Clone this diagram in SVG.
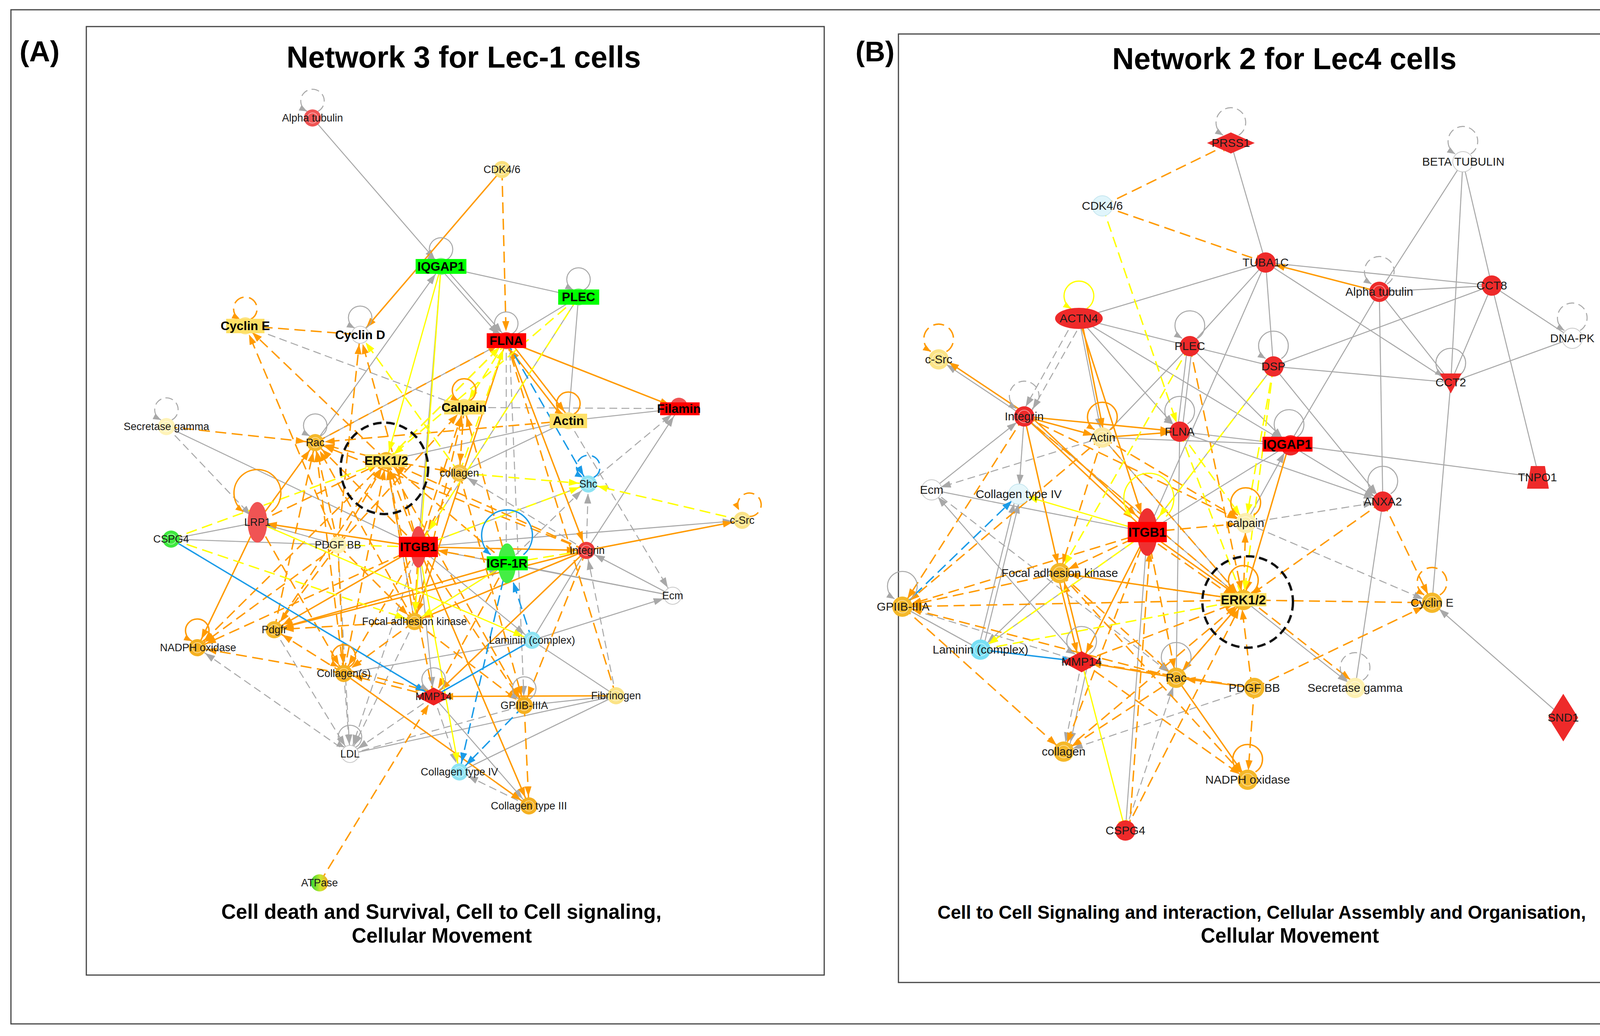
<svg xmlns="http://www.w3.org/2000/svg" width="4382" height="2652" viewBox="0 0 4382 2652">
<style>
.g{stroke:#a8a8a8;stroke-width:2.6;fill:none}
.gd{stroke:#a8a8a8;stroke-width:2.6;fill:none;stroke-dasharray:20 11}
.o{stroke:#ff9a00;stroke-width:3.6;fill:none}
.od{stroke:#ff9a00;stroke-width:3.6;fill:none;stroke-dasharray:28 14}
.y{stroke:#ffff00;stroke-width:3.2;fill:none}
.yd{stroke:#ffff00;stroke-width:3.6;fill:none;stroke-dasharray:28 14}
.b{stroke:#1a9be8;stroke-width:3.6;fill:none}
.bd{stroke:#1a9be8;stroke-width:3.6;fill:none;stroke-dasharray:28 14}
.t{font-family:"Liberation Sans",Arial,Helvetica,sans-serif;text-anchor:middle;fill:#1a1a1a}
.s{font-size:27px}
.s2{font-size:30px}
.bl{font-size:32px;font-weight:bold;fill:#000}
.bl2{font-size:33px;font-weight:bold;fill:#000}
.ring{fill:none;stroke:#fff;stroke-opacity:.5;stroke-width:2}
.wn{fill:#fff;stroke:#c8c8c8;stroke-width:2}
.frame{fill:none;stroke:#444;stroke-width:3}
.ttl{font-family:"Liberation Sans",Arial,Helvetica,sans-serif;font-weight:bold;fill:#000}
.erk{fill:none;stroke:#111;stroke-width:6;stroke-dasharray:22 12}
</style>
<defs>
<marker id="mg" markerUnits="userSpaceOnUse" markerWidth="80" markerHeight="20" refX="50" refY="9" orient="auto"><path d="M0,0L26,9L0,18z" fill="#a8a8a8"/></marker>
<marker id="mo" markerUnits="userSpaceOnUse" markerWidth="80" markerHeight="20" refX="50" refY="9" orient="auto"><path d="M0,0L26,9L0,18z" fill="#ff9a00"/></marker>
<marker id="moB" markerUnits="userSpaceOnUse" markerWidth="90" markerHeight="20" refX="76" refY="9" orient="auto"><path d="M0,0L26,9L0,18z" fill="#ff9a00"/></marker>
<marker id="my" markerUnits="userSpaceOnUse" markerWidth="80" markerHeight="20" refX="50" refY="9" orient="auto"><path d="M0,0L26,9L0,18z" fill="#ffff00"/></marker>
<marker id="myB" markerUnits="userSpaceOnUse" markerWidth="90" markerHeight="20" refX="76" refY="9" orient="auto"><path d="M0,0L26,9L0,18z" fill="#ffff00"/></marker>
<marker id="mb" markerUnits="userSpaceOnUse" markerWidth="80" markerHeight="20" refX="50" refY="9" orient="auto"><path d="M0,0L26,9L0,18z" fill="#1a9be8"/></marker>
<marker id="mbB" markerUnits="userSpaceOnUse" markerWidth="90" markerHeight="20" refX="76" refY="9" orient="auto"><path d="M0,0L26,9L0,18z" fill="#1a9be8"/></marker>
<marker id="mgL" markerUnits="userSpaceOnUse" markerWidth="24" markerHeight="18" refX="20" refY="8" orient="auto"><path d="M0,0L20,8L0,16z" fill="#a8a8a8"/></marker>
<marker id="moL" markerUnits="userSpaceOnUse" markerWidth="24" markerHeight="18" refX="20" refY="8" orient="auto"><path d="M0,0L20,8L0,16z" fill="#ff9a00"/></marker>
<marker id="myL" markerUnits="userSpaceOnUse" markerWidth="24" markerHeight="18" refX="20" refY="8" orient="auto"><path d="M0,0L20,8L0,16z" fill="#ffff00"/></marker>
<marker id="mbL" markerUnits="userSpaceOnUse" markerWidth="24" markerHeight="18" refX="20" refY="8" orient="auto"><path d="M0,0L20,8L0,16z" fill="#1a9be8"/></marker>
<marker id="tbo" markerUnits="userSpaceOnUse" markerWidth="30" markerHeight="26" refX="26" refY="12" orient="auto"><path d="M0,0L0,24" stroke="#ff9a00" stroke-width="4"/></marker>
<marker id="tby" markerUnits="userSpaceOnUse" markerWidth="30" markerHeight="26" refX="26" refY="12" orient="auto"><path d="M0,0L0,24" stroke="#ffff00" stroke-width="4"/></marker>
<linearGradient id="atp" x1="0" y1="0" x2="1" y2="0"><stop offset="0" stop-color="#2fd62f"/><stop offset="0.55" stop-color="#c8e830"/><stop offset="1" stop-color="#f5a623"/></linearGradient>
</defs>
<rect x="0" y="0" width="4382" height="2652" fill="#fff"/>
<g id="frames">
<rect class="frame" x="28" y="25" width="4326" height="2596"/>
<rect class="frame" x="221" y="68" width="1889" height="2428"/>
<rect class="frame" x="2300" y="87" width="1984" height="2428"/>
</g>
<g id="titles">
<text class="ttl" x="50" y="157" font-size="74">(A)</text>
<text class="ttl" x="2190" y="157" font-size="72">(B)</text>
<text class="ttl" x="1187" y="173" font-size="77" text-anchor="middle">Network 3 for Lec-1 cells</text>
<text class="ttl" x="3288" y="177" font-size="77" text-anchor="middle">Network 2 for Lec4 cells</text>
<text class="ttl" x="1130" y="2352" font-size="54" text-anchor="middle" textLength="1127" lengthAdjust="spacingAndGlyphs">Cell death and Survival, Cell to Cell signaling,</text>
<text class="ttl" x="1131" y="2413" font-size="54" text-anchor="middle" textLength="461" lengthAdjust="spacingAndGlyphs">Cellular Movement</text>
<text class="ttl" x="3230" y="2352" font-size="48" text-anchor="middle" textLength="1660" lengthAdjust="spacingAndGlyphs">Cell to Cell Signaling and interaction, Cellular Assembly and Organisation,</text>
<text class="ttl" x="3302" y="2413" font-size="54" text-anchor="middle" textLength="456" lengthAdjust="spacingAndGlyphs">Cellular Movement</text>
</g>
<g id="connectors-a">
<line class="g" x1="800" y1="302" x2="1129" y2="682" marker-end="url(#mg)"/>
<line class="g" x1="1124" y1="684" x2="1291" y2="874" marker-end="url(#mg)"/>
<line class="g" x1="1134" y1="680" x2="1301" y2="870" marker-end="url(#mg)"/>
<line class="g" x1="1129" y1="682" x2="1481" y2="760"/>
<line class="g" x1="1129" y1="682" x2="1071" y2="1400"/>
<line class="g" x1="807" y1="1133" x2="1129" y2="682" marker-end="url(#mg)"/>
<line class="g" x1="1481" y1="760" x2="1296" y2="872"/>
<line class="g" x1="1481" y1="760" x2="1455" y2="1077"/>
<line class="g" x1="1481" y1="760" x2="1071" y2="1400"/>
<line class="g" x1="1296" y1="872" x2="807" y2="1133"/>
<line class="g" x1="1738" y1="1046" x2="1455" y2="1077"/>
<line class="g" x1="1501" y1="1409" x2="1738" y2="1046" marker-end="url(#mg)"/>
<line class="gd" x1="1506" y1="1239" x2="1738" y2="1046" marker-end="url(#mg)"/>
<line class="gd" x1="1188" y1="1043" x2="1738" y2="1046"/>
<line class="g" x1="1071" y1="1400" x2="1900" y2="1332" marker-end="url(#mg)"/>
<line class="g" x1="1722" y1="1525" x2="1501" y2="1409" marker-end="url(#mg)"/>
<line class="gd" x1="1455" y1="1077" x2="1722" y2="1525" marker-end="url(#mg)"/>
<line class="g" x1="1362" y1="1639" x2="1722" y2="1525" marker-end="url(#mg)"/>
<line class="g" x1="1362" y1="1639" x2="1501" y2="1409"/>
<line class="g" x1="1362" y1="1639" x2="1577" y2="1781"/>
<line class="gd" x1="1577" y1="1781" x2="1501" y2="1409" marker-end="url(#mg)"/>
<line class="gd" x1="1501" y1="1409" x2="1506" y2="1239" marker-end="url(#mg)"/>
<line class="gd" x1="1298" y1="1442" x2="1506" y2="1239" marker-end="url(#mg)"/>
<line class="g" x1="438" y1="1380" x2="659" y2="1337"/>
<line class="g" x1="438" y1="1380" x2="865" y2="1395"/>
<line class="g" x1="865" y1="1395" x2="659" y2="1337" marker-end="url(#mg)"/>
<line class="gd" x1="426" y1="1092" x2="659" y2="1337" marker-end="url(#mg)"/>
<line class="g" x1="426" y1="1092" x2="1071" y2="1400"/>
<line class="gd" x1="896" y1="1930" x2="505" y2="1658" marker-end="url(#mg)"/>
<line class="gd" x1="880" y1="1724" x2="896" y2="1930" marker-end="url(#mg)"/>
<line class="gd" x1="865" y1="1395" x2="896" y2="1930" marker-end="url(#mg)"/>
<line class="gd" x1="1110" y1="1783" x2="896" y2="1930" marker-end="url(#mg)"/>
<line class="gd" x1="1061" y1="1591" x2="896" y2="1930" marker-end="url(#mg)"/>
<line class="gd" x1="1071" y1="1400" x2="896" y2="1930" marker-end="url(#mg)"/>
<line class="gd" x1="702" y1="1612" x2="896" y2="1930" marker-end="url(#mg)"/>
<line class="g" x1="896" y1="1930" x2="1577" y2="1781"/>
<line class="gd" x1="896" y1="1930" x2="1342" y2="1806"/>
<line class="g" x1="1176" y1="1976" x2="1577" y2="1781"/>
<line class="g" x1="1110" y1="1783" x2="1354" y2="2063" marker-end="url(#mg)"/>
<line class="g" x1="1342" y1="1806" x2="1577" y2="1781"/>
<line class="gd" x1="1110" y1="1783" x2="1176" y2="1976" marker-end="url(#mg)"/>
<line class="gd" x1="1354" y1="2063" x2="1176" y2="1976" marker-end="url(#mg)"/>
<line class="g" x1="1071" y1="1400" x2="1110" y2="1783" marker-end="url(#mg)"/>
<line class="g" x1="1071" y1="1400" x2="1722" y2="1525"/>
<line class="g" x1="1071" y1="1400" x2="1362" y2="1639" marker-end="url(#mg)"/>
<line class="g" x1="1071" y1="1400" x2="1506" y2="1239"/>
<line class="gd" x1="1501" y1="1409" x2="1176" y2="1211" marker-end="url(#mg)"/>
<line class="g" x1="989" y1="1179" x2="1455" y2="1077"/>
<line class="gd" x1="628" y1="834" x2="1188" y2="1043"/>
<line class="g" x1="1061" y1="1591" x2="989" y2="1179" marker-end="url(#mg)"/>
<line class="g" x1="1061" y1="1591" x2="1298" y2="1442" marker-end="url(#mg)"/>
<line class="g" x1="1298" y1="1442" x2="1722" y2="1525"/>
<line class="gd" x1="1296" y1="872" x2="1296" y2="1442"/>
<line class="gd" x1="1304" y1="872" x2="1342" y2="1806" marker-end="url(#mg)"/>
<line class="g" x1="1176" y1="1211" x2="1455" y2="1077"/>
<line class="g" x1="702" y1="1612" x2="1298" y2="1442"/>
<line class="g" x1="880" y1="1724" x2="1362" y2="1639"/>
<line class="o" x1="1285" y1="434" x2="922" y2="857" marker-end="url(#mo)"/>
<line class="o" x1="1296" y1="872" x2="1738" y2="1046" marker-end="url(#mo)"/>
<line class="o" x1="1450" y1="1081" x2="1291" y2="876" marker-end="url(#mo)"/>
<line class="o" x1="1301" y1="868" x2="1460" y2="1073" marker-end="url(#mo)"/>
<line class="o" x1="1296" y1="872" x2="1501" y2="1409" marker-end="url(#mo)"/>
<line class="o" x1="1501" y1="1409" x2="1900" y2="1332" marker-end="url(#mo)"/>
<line class="o" x1="1071" y1="1400" x2="1501" y2="1409" marker-end="url(#mo)"/>
<line class="o" x1="1501" y1="1409" x2="702" y2="1612" marker-end="url(#mo)"/>
<line class="o" x1="1501" y1="1409" x2="1061" y2="1591" marker-end="url(#mo)"/>
<line class="o" x1="659" y1="1337" x2="505" y2="1658" marker-end="url(#mo)"/>
<line class="o" x1="1071" y1="1400" x2="659" y2="1337" marker-end="url(#mo)"/>
<line class="o" x1="1577" y1="1781" x2="1110" y2="1783" marker-end="url(#mo)"/>
<line class="o" x1="1071" y1="1400" x2="1354" y2="2063" marker-end="url(#mo)"/>
<line class="o" x1="880" y1="1724" x2="1354" y2="2063" marker-end="url(#mo)"/>
<line class="o" x1="1071" y1="1400" x2="702" y2="1612" marker-end="url(#mo)"/>
<line class="o" x1="1296" y1="872" x2="1061" y2="1591" marker-end="url(#mo)"/>
<line class="o" x1="659" y1="1337" x2="807" y2="1133" marker-end="url(#mo)"/>
<line class="o" x1="1298" y1="1442" x2="702" y2="1612" marker-end="url(#mo)"/>
<line class="o" x1="1501" y1="1409" x2="1110" y2="1783" marker-end="url(#mo)"/>
<line class="od" x1="1285" y1="434" x2="1296" y2="872" marker-end="url(#mo)"/>
<line class="od" x1="628" y1="834" x2="922" y2="857"/>
<line class="od" x1="865" y1="1395" x2="628" y2="834" marker-end="url(#mo)"/>
<line class="od" x1="989" y1="1179" x2="628" y2="834" marker-end="url(#mo)"/>
<line class="od" x1="865" y1="1395" x2="922" y2="857" marker-end="url(#mo)"/>
<line class="od" x1="1071" y1="1400" x2="922" y2="857" marker-end="url(#mo)"/>
<line class="od" x1="426" y1="1092" x2="807" y2="1133" marker-end="url(#mo)"/>
<line class="od" x1="989" y1="1179" x2="807" y2="1133" marker-end="url(#mo)"/>
<line class="od" x1="1071" y1="1400" x2="807" y2="1133" marker-end="url(#mo)"/>
<line class="od" x1="865" y1="1395" x2="807" y2="1133" marker-end="url(#mo)"/>
<line class="od" x1="1061" y1="1591" x2="807" y2="1133" marker-end="url(#mo)"/>
<line class="od" x1="880" y1="1724" x2="807" y2="1133" marker-end="url(#mo)"/>
<line class="od" x1="1455" y1="1077" x2="807" y2="1133" marker-end="url(#mo)"/>
<line class="od" x1="1501" y1="1409" x2="807" y2="1133" marker-end="url(#mo)"/>
<line class="od" x1="702" y1="1612" x2="807" y2="1133" marker-end="url(#mo)"/>
<line class="od" x1="989" y1="1179" x2="1176" y2="1211" marker-end="url(#mo)"/>
<line class="od" x1="1188" y1="1043" x2="1176" y2="1211" marker-end="url(#mo)"/>
<line class="od" x1="1071" y1="1400" x2="1188" y2="1043" marker-end="url(#mo)"/>
<line class="od" x1="865" y1="1395" x2="1188" y2="1043" marker-end="url(#mo)"/>
<line class="od" x1="1061" y1="1591" x2="1188" y2="1043" marker-end="url(#mo)"/>
<line class="od" x1="1298" y1="1442" x2="1188" y2="1043" marker-end="url(#mo)"/>
<line class="od" x1="1071" y1="1400" x2="989" y2="1179" marker-end="url(#mo)"/>
<line class="od" x1="865" y1="1395" x2="989" y2="1179" marker-end="url(#mo)"/>
<line class="od" x1="1061" y1="1591" x2="989" y2="1179" marker-end="url(#mo)"/>
<line class="od" x1="1298" y1="1442" x2="989" y2="1179" marker-end="url(#mo)"/>
<line class="od" x1="1501" y1="1409" x2="989" y2="1179" marker-end="url(#mo)"/>
<line class="od" x1="702" y1="1612" x2="989" y2="1179" marker-end="url(#mo)"/>
<line class="od" x1="880" y1="1724" x2="989" y2="1179" marker-end="url(#mo)"/>
<line class="od" x1="1110" y1="1783" x2="989" y2="1179" marker-end="url(#mo)"/>
<line class="od" x1="659" y1="1337" x2="989" y2="1179" marker-end="url(#mo)"/>
<line class="od" x1="865" y1="1395" x2="702" y2="1612" marker-end="url(#mo)"/>
<line class="od" x1="1061" y1="1591" x2="702" y2="1612" marker-end="url(#mo)"/>
<line class="od" x1="880" y1="1724" x2="702" y2="1612" marker-end="url(#mo)"/>
<line class="od" x1="865" y1="1395" x2="505" y2="1658" marker-end="url(#mo)"/>
<line class="od" x1="1071" y1="1400" x2="505" y2="1658" marker-end="url(#mo)"/>
<line class="od" x1="880" y1="1724" x2="505" y2="1658" marker-end="url(#mo)"/>
<line class="od" x1="989" y1="1179" x2="505" y2="1658" marker-end="url(#mo)"/>
<line class="od" x1="1071" y1="1400" x2="880" y2="1724" marker-end="url(#mo)"/>
<line class="od" x1="865" y1="1395" x2="880" y2="1724" marker-end="url(#mo)"/>
<line class="od" x1="659" y1="1337" x2="880" y2="1724" marker-end="url(#mo)"/>
<line class="od" x1="1061" y1="1591" x2="880" y2="1724" marker-end="url(#mo)"/>
<line class="od" x1="1110" y1="1783" x2="880" y2="1724" marker-end="url(#mo)"/>
<line class="od" x1="884" y1="1714" x2="1114" y2="1773" marker-end="url(#mo)"/>
<line class="od" x1="1298" y1="1442" x2="1110" y2="1783" marker-end="url(#mo)"/>
<line class="od" x1="1071" y1="1400" x2="1342" y2="1806" marker-end="url(#mo)"/>
<line class="od" x1="1176" y1="1211" x2="1342" y2="1806" marker-end="url(#mo)"/>
<line class="od" x1="1501" y1="1409" x2="1342" y2="1806" marker-end="url(#mo)"/>
<line class="od" x1="1061" y1="1591" x2="1342" y2="1806" marker-end="url(#mo)"/>
<line class="od" x1="989" y1="1179" x2="1342" y2="1806" marker-end="url(#mo)"/>
<line class="od" x1="1342" y1="1806" x2="1354" y2="2063" marker-end="url(#mo)"/>
<line class="od" x1="818" y1="2260" x2="1110" y2="1783" marker-end="url(#mo)"/>
<line class="od" x1="1071" y1="1400" x2="1061" y2="1591" marker-end="url(#mo)"/>
<line class="od" x1="865" y1="1395" x2="1061" y2="1591" marker-end="url(#mo)"/>
<line class="od" x1="1176" y1="1211" x2="1071" y2="1400" marker-end="url(#moB)"/>
<line class="od" x1="1298" y1="1442" x2="1071" y2="1400" marker-end="url(#moB)"/>
<line class="od" x1="1296" y1="872" x2="1577" y2="1781"/>
<line class="od" x1="807" y1="1133" x2="1296" y2="872" marker-end="url(#mo)"/>
<line class="od" x1="989" y1="1179" x2="1296" y2="872" marker-end="url(#mo)"/>
<line class="y" x1="1129" y1="682" x2="989" y2="1179" marker-end="url(#my)"/>
<line class="y" x1="1129" y1="682" x2="1061" y2="1591" marker-end="url(#my)"/>
<line class="yd" x1="1481" y1="760" x2="1071" y2="1400" marker-end="url(#myB)"/>
<line class="yd" x1="1481" y1="760" x2="989" y2="1179" marker-end="url(#my)"/>
<line class="yd" x1="1176" y1="1211" x2="922" y2="857" marker-end="url(#my)"/>
<line class="yd" x1="989" y1="1179" x2="1296" y2="872" marker-end="url(#my)"/>
<line class="yd" x1="1176" y1="1211" x2="1296" y2="872" marker-end="url(#my)"/>
<line class="yd" x1="1296" y1="872" x2="1188" y2="1043" marker-end="url(#my)"/>
<line class="yd" x1="438" y1="1380" x2="1061" y2="1591" marker-end="url(#my)"/>
<line class="yd" x1="438" y1="1380" x2="989" y2="1179" marker-end="url(#my)"/>
<line class="yd" x1="1176" y1="1211" x2="1506" y2="1239" marker-end="url(#my)"/>
<line class="yd" x1="1071" y1="1400" x2="1506" y2="1239" marker-end="url(#my)"/>
<line class="yd" x1="1900" y1="1332" x2="1506" y2="1239" marker-end="url(#my)"/>
<line class="y" x1="659" y1="1337" x2="1362" y2="1639" marker-end="url(#my)"/>
<line class="y" x1="1071" y1="1400" x2="1176" y2="1976" marker-end="url(#my)"/>
<line class="yd" x1="1501" y1="1409" x2="1298" y2="1442"/>
<line class="y" x1="1298" y1="1442" x2="1061" y2="1591" marker-end="url(#my)"/>
<line class="yd" x1="865" y1="1395" x2="1071" y2="1400"/>
<line class="b" x1="438" y1="1380" x2="1110" y2="1783" marker-end="url(#mb)"/>
<line class="bd" x1="1362" y1="1639" x2="1298" y2="1442" marker-end="url(#mbB)"/>
<line class="bd" x1="1298" y1="1442" x2="1176" y2="1976" marker-end="url(#mb)"/>
<line class="bd" x1="1342" y1="1806" x2="1176" y2="1976" marker-end="url(#mb)"/>
<line class="b" x1="1110" y1="1783" x2="1362" y2="1639"/>
<line class="bd" x1="1296" y1="872" x2="1506" y2="1239" marker-end="url(#mb)"/>
<path class="gd" d="M814,285a30,30 0 1 0 -28,0" marker-end="url(#mgL)"/>
<path class="g" d="M1143,665a30,30 0 1 0 -28,0" marker-end="url(#mgL)"/>
<path class="g" d="M1495,742a30,30 0 1 0 -28,0" marker-end="url(#mgL)"/>
<path class="od" d="M642,817a30,30 0 1 0 -28,0" marker-end="url(#moL)"/>
<path class="g" d="M936,840a30,30 0 1 0 -28,0" marker-end="url(#mgL)"/>
<path class="g" d="M1310,855a30,30 0 1 0 -28,0" marker-end="url(#mgL)"/>
<path class="o" d="M1202,1026a30,30 0 1 0 -28,0" marker-end="url(#moL)"/>
<path class="o" d="M1469,1060a30,30 0 1 0 -28,0" marker-end="url(#moL)"/>
<path class="gd" d="M440,1075a30,30 0 1 0 -28,0" marker-end="url(#mgL)"/>
<path class="g" d="M821,1116a30,30 0 1 0 -28,0" marker-end="url(#mgL)"/>
<path class="bd" d="M1520,1222a30,30 0 1 0 -28,0" marker-end="url(#mbL)"/>
<path class="od" d="M1916,1322a30,30 0 1 0 -24,-16" marker-end="url(#moL)"/>
<path class="o" d="M695,1310a60,60 0 1 0 -72,0" marker-end="url(#moL)"/>
<path class="b" d="M1340,1420a65,65 0 1 0 -84,0" marker-end="url(#mbL)"/>
<path class="o" d="M519,1641a30,30 0 1 0 -28,0" marker-end="url(#moL)"/>
<path class="o" d="M894,1707a30,30 0 1 0 -28,0" marker-end="url(#moL)"/>
<path class="g" d="M1124,1766a30,30 0 1 0 -28,0" marker-end="url(#mgL)"/>
<path class="g" d="M1356,1789a30,30 0 1 0 -28,0" marker-end="url(#mgL)"/>
<path class="g" d="M910,1913a30,30 0 1 0 -28,0" marker-end="url(#mgL)"/>
</g>
<g id="connectors-b">
<line class="g" x1="3151" y1="366" x2="3240" y2="672"/>
<line class="g" x1="3745" y1="414" x2="3531" y2="747"/>
<line class="g" x1="3745" y1="414" x2="3714" y2="979"/>
<line class="g" x1="3745" y1="414" x2="3819" y2="731"/>
<line class="g" x1="3240" y1="672" x2="3819" y2="731"/>
<line class="g" x1="3240" y1="672" x2="3714" y2="979"/>
<line class="g" x1="3240" y1="672" x2="2762" y2="815"/>
<line class="g" x1="3240" y1="672" x2="3046" y2="886"/>
<line class="g" x1="3240" y1="672" x2="3260" y2="938"/>
<line class="g" x1="3240" y1="672" x2="2937" y2="1362"/>
<line class="g" x1="3531" y1="747" x2="3819" y2="731"/>
<line class="g" x1="3531" y1="747" x2="3714" y2="979"/>
<line class="g" x1="3531" y1="747" x2="3300" y2="1138"/>
<line class="g" x1="3531" y1="747" x2="3540" y2="1284"/>
<line class="g" x1="3819" y1="731" x2="3714" y2="979"/>
<line class="g" x1="3819" y1="731" x2="4025" y2="866"/>
<line class="g" x1="3819" y1="731" x2="3940" y2="1222"/>
<line class="g" x1="3819" y1="731" x2="3260" y2="938"/>
<line class="g" x1="3714" y1="979" x2="4025" y2="866"/>
<line class="g" x1="3714" y1="979" x2="3666" y2="1543"/>
<line class="g" x1="3260" y1="938" x2="3714" y2="979"/>
<line class="g" x1="3940" y1="1222" x2="3300" y2="1138"/>
<line class="g" x1="3300" y1="1138" x2="3540" y2="1284" marker-end="url(#mg)"/>
<line class="g" x1="3260" y1="938" x2="3540" y2="1284" marker-end="url(#mg)"/>
<line class="g" x1="3020" y1="1105" x2="3540" y2="1284" marker-end="url(#mg)"/>
<line class="g" x1="3540" y1="1284" x2="3469" y2="1761"/>
<line class="g" x1="2762" y1="815" x2="3046" y2="886"/>
<line class="g" x1="2762" y1="815" x2="3020" y2="1105" marker-end="url(#mg)"/>
<line class="g" x1="2762" y1="815" x2="2822" y2="1120" marker-end="url(#mg)"/>
<line class="gd" x1="2750" y1="818" x2="2614" y2="1062" marker-end="url(#mg)"/>
<line class="gd" x1="2772" y1="820" x2="2632" y2="1068" marker-end="url(#mg)"/>
<line class="g" x1="2762" y1="815" x2="3300" y2="1138" marker-end="url(#mg)"/>
<line class="g" x1="2762" y1="815" x2="2937" y2="1362"/>
<line class="g" x1="3046" y1="886" x2="3260" y2="938"/>
<line class="g" x1="3040" y1="886" x2="3014" y2="1105"/>
<line class="g" x1="3052" y1="886" x2="3026" y2="1105"/>
<line class="g" x1="3046" y1="886" x2="2822" y2="1120"/>
<line class="g" x1="3046" y1="886" x2="3300" y2="1138" marker-end="url(#mg)"/>
<line class="g" x1="3260" y1="938" x2="2937" y2="1362"/>
<line class="g" x1="2622" y1="1066" x2="2403" y2="920" marker-end="url(#mg)"/>
<line class="g" x1="2385" y1="1254" x2="2622" y2="1066" marker-end="url(#mg)"/>
<line class="g" x1="2622" y1="1066" x2="2608" y2="1265" marker-end="url(#mg)"/>
<line class="g" x1="2385" y1="1254" x2="2937" y2="1362"/>
<line class="gd" x1="2822" y1="1120" x2="2385" y2="1254" marker-end="url(#mg)"/>
<line class="g" x1="2769" y1="1694" x2="2385" y2="1254" marker-end="url(#mg)"/>
<line class="gd" x1="2385" y1="1254" x2="3011" y2="1735" marker-end="url(#mg)"/>
<line class="g" x1="2504" y1="1663" x2="2602" y2="1265" marker-end="url(#mg)"/>
<line class="g" x1="2516" y1="1663" x2="2614" y2="1265" marker-end="url(#mg)"/>
<line class="g" x1="2310" y1="1553" x2="2510" y2="1663"/>
<line class="gd" x1="2310" y1="1553" x2="2769" y2="1694"/>
<line class="g" x1="2713" y1="1467" x2="2510" y2="1663" marker-end="url(#mg)"/>
<line class="g" x1="2937" y1="1362" x2="2510" y2="1663" marker-end="url(#mg)"/>
<line class="gd" x1="2881" y1="2126" x2="3011" y2="1735" marker-end="url(#mg)"/>
<line class="g" x1="2881" y1="2126" x2="2937" y2="1362"/>
<line class="gd" x1="2769" y1="1694" x2="2723" y2="1924" marker-end="url(#mg)"/>
<line class="g" x1="2786" y1="1694" x2="2735" y2="1924" marker-end="url(#mg)"/>
<line class="gd" x1="3211" y1="1761" x2="2723" y2="1924" marker-end="url(#mg)"/>
<line class="gd" x1="3189" y1="1339" x2="3540" y2="1284" marker-end="url(#mg)"/>
<line class="gd" x1="3189" y1="1339" x2="3666" y2="1543" marker-end="url(#mg)"/>
<line class="g" x1="3183" y1="1536" x2="3469" y2="1761" marker-end="url(#mg)"/>
<line class="g" x1="4002" y1="1837" x2="3666" y2="1543" marker-end="url(#mg)"/>
<line class="g" x1="3300" y1="1138" x2="2937" y2="1362"/>
<line class="g" x1="3189" y1="1339" x2="3300" y2="1138" marker-end="url(#mg)"/>
<line class="g" x1="3020" y1="1105" x2="3011" y2="1735"/>
<line class="g" x1="3020" y1="1105" x2="3300" y2="1138"/>
<line class="g" x1="2822" y1="1120" x2="3300" y2="1138" marker-end="url(#mg)"/>
<line class="g" x1="2622" y1="1066" x2="3183" y2="1536"/>
<line class="g" x1="2822" y1="1120" x2="3183" y2="1536"/>
<line class="o" x1="2628" y1="1060" x2="2409" y2="914" marker-end="url(#mo)"/>
<line class="o" x1="2622" y1="1066" x2="2822" y2="1120" marker-end="url(#mo)"/>
<line class="o" x1="2622" y1="1066" x2="3020" y2="1105" marker-end="url(#mo)"/>
<line class="o" x1="2822" y1="1120" x2="3020" y2="1105" marker-end="url(#mo)"/>
<line class="o" x1="2622" y1="1066" x2="2937" y2="1362" marker-end="url(#moB)"/>
<line class="o" x1="2630" y1="1058" x2="2945" y2="1354" marker-end="url(#moB)"/>
<line class="o" x1="2622" y1="1066" x2="2713" y2="1467" marker-end="url(#mo)"/>
<line class="o" x1="2762" y1="815" x2="2937" y2="1362" marker-end="url(#moB)"/>
<line class="o" x1="2768" y1="815" x2="2828" y2="1120" marker-end="url(#mo)"/>
<line class="o" x1="2707" y1="1467" x2="2763" y2="1694" marker-end="url(#mo)"/>
<line class="o" x1="2775" y1="1694" x2="2719" y2="1467" marker-end="url(#mo)"/>
<line class="o" x1="2937" y1="1362" x2="2769" y2="1694" marker-end="url(#mo)"/>
<line class="o" x1="3300" y1="1138" x2="3183" y2="1536" marker-end="url(#mo)"/>
<line class="o" x1="3531" y1="747" x2="3240" y2="672" marker-end="url(#mo)"/>
<line class="o" x1="3011" y1="1735" x2="3194" y2="1996" marker-end="url(#mo)"/>
<line class="o" x1="3211" y1="1761" x2="3011" y2="1735" marker-end="url(#mo)"/>
<line class="o" x1="3011" y1="1735" x2="2769" y2="1694" marker-end="url(#mo)"/>
<line class="o" x1="2937" y1="1362" x2="3183" y2="1536" marker-end="url(#mo)"/>
<line class="od" x1="2822" y1="527" x2="3151" y2="366" marker-end="url(#tbo)"/>
<line class="od" x1="2822" y1="527" x2="3240" y2="672" marker-end="url(#tbo)"/>
<line class="od" x1="3046" y1="886" x2="3183" y2="1536" marker-end="url(#mo)"/>
<line class="od" x1="2622" y1="1066" x2="3183" y2="1536" marker-end="url(#mo)"/>
<line class="od" x1="2930" y1="1368" x2="3176" y2="1542" marker-end="url(#mo)"/>
<line class="od" x1="2713" y1="1467" x2="3183" y2="1536" marker-end="url(#mo)"/>
<line class="od" x1="2769" y1="1694" x2="3183" y2="1536" marker-end="url(#mo)"/>
<line class="od" x1="3011" y1="1735" x2="3183" y2="1536" marker-end="url(#mo)"/>
<line class="od" x1="3205" y1="1761" x2="3177" y2="1536" marker-end="url(#mo)"/>
<line class="od" x1="2822" y1="1120" x2="3183" y2="1536" marker-end="url(#mo)"/>
<line class="od" x1="2723" y1="1924" x2="3183" y2="1536" marker-end="url(#mo)"/>
<line class="od" x1="2881" y1="2126" x2="3183" y2="1536" marker-end="url(#mo)"/>
<line class="od" x1="3183" y1="1536" x2="3189" y2="1339" marker-end="url(#mo)"/>
<line class="od" x1="2937" y1="1362" x2="3189" y2="1339" marker-end="url(#mo)"/>
<line class="od" x1="2822" y1="1120" x2="3189" y2="1339" marker-end="url(#mo)"/>
<line class="od" x1="2622" y1="1066" x2="3189" y2="1339" marker-end="url(#mo)"/>
<line class="od" x1="3183" y1="1536" x2="3666" y2="1543" marker-end="url(#mo)"/>
<line class="od" x1="3540" y1="1284" x2="3183" y2="1536" marker-end="url(#mo)"/>
<line class="od" x1="3540" y1="1284" x2="3666" y2="1543" marker-end="url(#mo)"/>
<line class="od" x1="3211" y1="1761" x2="3666" y2="1543" marker-end="url(#mo)"/>
<line class="od" x1="3190" y1="1530" x2="3476" y2="1755" marker-end="url(#mo)"/>
<line class="od" x1="2937" y1="1362" x2="2310" y2="1553" marker-end="url(#mo)"/>
<line class="od" x1="2713" y1="1467" x2="2310" y2="1553" marker-end="url(#mo)"/>
<line class="od" x1="3183" y1="1536" x2="2310" y2="1553" marker-end="url(#mo)"/>
<line class="od" x1="2822" y1="1120" x2="2310" y2="1553" marker-end="url(#mo)"/>
<line class="od" x1="3011" y1="1735" x2="2310" y2="1553" marker-end="url(#mo)"/>
<line class="od" x1="2622" y1="1066" x2="2310" y2="1553" marker-end="url(#mo)"/>
<line class="od" x1="2310" y1="1553" x2="2723" y2="1924" marker-end="url(#mo)"/>
<line class="od" x1="2937" y1="1362" x2="2723" y2="1924" marker-end="url(#mo)"/>
<line class="od" x1="3011" y1="1735" x2="2723" y2="1924" marker-end="url(#mo)"/>
<line class="od" x1="2769" y1="1694" x2="3194" y2="1996" marker-end="url(#mo)"/>
<line class="od" x1="3211" y1="1761" x2="3194" y2="1996" marker-end="url(#mo)"/>
<line class="od" x1="2713" y1="1467" x2="3194" y2="1996" marker-end="url(#mo)"/>
<line class="od" x1="2937" y1="1362" x2="3011" y2="1735" marker-end="url(#mo)"/>
<line class="od" x1="3183" y1="1536" x2="3011" y2="1735" marker-end="url(#mo)"/>
<line class="od" x1="2713" y1="1467" x2="3011" y2="1735" marker-end="url(#mo)"/>
<line class="od" x1="2937" y1="1362" x2="2713" y2="1467" marker-end="url(#mo)"/>
<line class="od" x1="2822" y1="1120" x2="2713" y2="1467" marker-end="url(#mo)"/>
<line class="od" x1="3183" y1="1536" x2="2713" y2="1467" marker-end="url(#mo)"/>
<line class="od" x1="2891" y1="2126" x2="2947" y2="1362" marker-end="url(#moB)"/>
<line class="od" x1="3211" y1="1761" x2="2769" y2="1694" marker-end="url(#mo)"/>
<line class="yd" x1="2822" y1="527" x2="3020" y2="1105" marker-end="url(#my)"/>
<line class="yd" x1="3260" y1="938" x2="2937" y2="1362" marker-end="url(#myB)"/>
<line class="yd" x1="3260" y1="938" x2="3183" y2="1536" marker-end="url(#my)"/>
<line class="yd" x1="3260" y1="938" x2="3189" y2="1339" marker-end="url(#my)"/>
<line class="yd" x1="3020" y1="1105" x2="3189" y2="1339" marker-end="url(#my)"/>
<line class="yd" x1="3020" y1="1105" x2="3183" y2="1536"/>
<line class="yd" x1="3046" y1="886" x2="2713" y2="1467" marker-end="url(#my)"/>
<line class="y" x1="2937" y1="1362" x2="2608" y2="1265" marker-end="url(#my)"/>
<line class="y" x1="2769" y1="1694" x2="2881" y2="2126" marker-end="url(#tby)"/>
<line class="yd" x1="2510" y1="1663" x2="3183" y2="1536" marker-end="url(#my)"/>
<line class="yd" x1="2937" y1="1362" x2="2510" y2="1663" marker-end="url(#my)"/>
<line class="bd" x1="2310" y1="1553" x2="2608" y2="1265" marker-end="url(#mb)"/>
<line class="b" x1="2510" y1="1663" x2="2769" y2="1694" marker-end="url(#mb)"/>
<path class="gd" d="M3171,346a38,38 0 1 0 -40,0" marker-end="url(#mgL)"/>
<path class="gd" d="M3765,394a38,38 0 1 0 -40,0" marker-end="url(#mgL)"/>
<path class="gd" d="M3551,727a38,38 0 1 0 -40,0" marker-end="url(#mgL)"/>
<path class="gd" d="M4045,846a38,38 0 1 0 -40,0" marker-end="url(#mgL)"/>
<path class="od" d="M2423,900a38,38 0 1 0 -40,0" marker-end="url(#moL)"/>
<path class="y" d="M2782,790a38,38 0 1 0 -40,0" marker-end="url(#myL)"/>
<path class="g" d="M3066,866a38,38 0 1 0 -40,0" marker-end="url(#mgL)"/>
<path class="g" d="M3280,918a38,38 0 1 0 -40,0" marker-end="url(#mgL)"/>
<path class="g" d="M3734,962a38,38 0 1 0 -40,0" marker-end="url(#mgL)"/>
<path class="gd" d="M2642,1046a38,38 0 1 0 -40,0" marker-end="url(#mgL)"/>
<path class="o" d="M2842,1100a38,38 0 1 0 -40,0" marker-end="url(#moL)"/>
<path class="g" d="M3040,1085a38,38 0 1 0 -40,0" marker-end="url(#mgL)"/>
<path class="g" d="M3320,1119a38,38 0 1 0 -40,0" marker-end="url(#mgL)"/>
<path class="g" d="M3560,1264a38,38 0 1 0 -40,0" marker-end="url(#mgL)"/>
<path class="y" d="M2985,1322a64,64 0 1 0 -88,0" marker-end="url(#myL)"/>
<path class="o" d="M3209,1319a38,38 0 1 0 -40,0" marker-end="url(#moL)"/>
<path class="g" d="M2330,1533a38,38 0 1 0 -40,0" marker-end="url(#mgL)"/>
<path class="o" d="M3203,1518a38,38 0 1 0 -40,0" marker-end="url(#moL)"/>
<path class="od" d="M3686,1523a38,38 0 1 0 -40,0" marker-end="url(#moL)"/>
<path class="g" d="M2789,1674a38,38 0 1 0 -40,0" marker-end="url(#mgL)"/>
<path class="g" d="M3031,1715a38,38 0 1 0 -40,0" marker-end="url(#mgL)"/>
<path class="gd" d="M3489,1741a38,38 0 1 0 -40,0" marker-end="url(#mgL)"/>
<path class="o" d="M3214,1976a38,38 0 1 0 -40,0" marker-end="url(#moL)"/>
</g>
<g id="erk-highlights">
<ellipse class="erk" cx="984" cy="1199" rx="112" ry="117"/>
<ellipse class="erk" cx="3194" cy="1541" rx="116" ry="117"/>
</g>
<g id="nodes-a">
<g id="a-alpha-tubulin"><circle cx="800" cy="302" r="22" fill="#f05454"/><circle class="ring" cx="800" cy="302" r="13"/><text class="t s" x="800" y="311">Alpha tubulin</text></g>
<g id="a-cdk46"><circle cx="1285" cy="434" r="22" fill="#fbe07c"/><circle class="ring" cx="1285" cy="434" r="13"/><text class="t s" x="1285" y="443">CDK4/6</text></g>
<g id="a-iqgap1"><circle cx="1129" cy="682" r="22" fill="#8ef08e"/><rect x="1064" y="663" width="130" height="38" fill="#00ff00"/><text class="t bl" x="1129" y="693">IQGAP1</text></g>
<g id="a-plec"><circle cx="1481" cy="760" r="22" fill="#8ef08e"/><rect x="1429" y="741" width="105" height="39" fill="#00ff00"/><text class="t bl" x="1481" y="771">PLEC</text></g>
<g id="a-cyclin-e"><circle cx="628" cy="834" r="22" fill="#fde58a"/><rect x="579" y="816" width="98" height="37" fill="#ffe066"/><text class="t bl" x="628" y="845">Cyclin E</text></g>
<g id="a-cyclin-d"><circle class="wn" cx="922" cy="857" r="22" stroke="#f3e6b0"/><text class="t bl" x="922" y="868">Cyclin D</text></g>
<g id="a-flna"><circle cx="1296" cy="872" r="22" fill="#f05454"/><rect x="1246" y="853" width="101" height="38" fill="#ff0000"/><text class="t bl" x="1296" y="883">FLNA</text></g>
<g id="a-calpain"><circle cx="1188" cy="1043" r="22" fill="#fde58a"/><rect x="1137" y="1025" width="103" height="36" fill="#ffe066"/><text class="t bl" x="1188" y="1054">Calpain</text></g>
<g id="a-actin"><circle cx="1455" cy="1077" r="22" fill="#fde58a"/><rect x="1407" y="1059" width="96" height="37" fill="#ffe066"/><text class="t bl" x="1455" y="1088">Actin</text></g>
<g id="a-filamin"><circle cx="1738" cy="1040" r="22" fill="#f05454"/><rect x="1690" y="1030" width="101" height="33" fill="#ff0000"/><text class="t bl" x="1738" y="1057">Filamin</text></g>
<g id="a-secretase-gamma"><circle cx="426" cy="1092" r="22" fill="#fff3b8"/><circle class="ring" cx="426" cy="1092" r="13" stroke="#f0dc90"/><text class="t s" x="426" y="1101">Secretase gamma</text></g>
<g id="a-rac"><circle cx="807" cy="1133" r="22" fill="#f5b829"/><circle class="ring" cx="807" cy="1133" r="13"/><text class="t s" x="807" y="1142">Rac</text></g>
<g id="a-erk12"><circle cx="989" cy="1179" r="22" fill="#f5b829"/><rect x="935" y="1163" width="108" height="33" fill="#ffe066"/><text class="t bl" x="989" y="1190">ERK1/2</text></g>
<g id="a-collagen"><circle cx="1176" cy="1211" r="22" fill="#f5c242"/><circle class="ring" cx="1176" cy="1211" r="13"/><text class="t s" x="1176" y="1220">collagen</text></g>
<g id="a-shc"><circle cx="1506" cy="1239" r="22" fill="#8de3f3"/><circle class="ring" cx="1506" cy="1239" r="13"/><text class="t s" x="1506" y="1248">Shc</text></g>
<g id="a-c-src"><circle cx="1900" cy="1332" r="22" fill="#fbe386"/><circle class="ring" cx="1900" cy="1332" r="13"/><text class="t s" x="1900" y="1341">c-Src</text></g>
<g id="a-lrp1"><ellipse cx="659" cy="1337" rx="25" ry="52" fill="#f05454"/><text class="t s" x="659" y="1346">LRP1</text></g>
<g id="a-cspg4"><circle cx="438" cy="1380" r="22" fill="#3ee83e"/><circle class="ring" cx="438" cy="1380" r="13"/><text class="t s" x="438" y="1389">CSPG4</text></g>
<g id="a-pdgf-bb"><circle cx="865" cy="1395" r="22" fill="#fff2b3"/><circle class="ring" cx="865" cy="1395" r="13" stroke="#f0dc90"/><text class="t s" x="865" y="1404">PDGF BB</text></g>
<g id="a-itgb1"><ellipse cx="1071" cy="1400" rx="20" ry="53" fill="#f04848"/><rect x="1021" y="1374" width="100" height="52" fill="#ff0000"/><text class="t bl" x="1071" y="1411">ITGB1</text></g>
<g id="a-igf-1r"><ellipse cx="1298" cy="1442" rx="23" ry="51" fill="#44ee44"/><rect x="1246" y="1424" width="105" height="36" fill="#00ff00"/><text class="t bl" x="1298" y="1453">IGF-1R</text></g>
<g id="a-integrin"><circle cx="1501" cy="1409" r="22" fill="#ee3a3a"/><circle class="ring" cx="1501" cy="1409" r="13"/><text class="t s" x="1503" y="1418">Integrin</text></g>
<g id="a-ecm"><circle class="wn" cx="1722" cy="1525" r="22"/><circle class="ring" cx="1722" cy="1525" r="13" stroke="#ccc"/><text class="t s" x="1722" y="1534">Ecm</text></g>
<g id="a-fak"><circle cx="1061" cy="1591" r="22" fill="#f5b829"/><circle class="ring" cx="1061" cy="1591" r="13"/><text class="t s" x="1061" y="1600">Focal adhesion kinase</text></g>
<g id="a-pdgfr"><circle cx="702" cy="1612" r="22" fill="#f5b829"/><circle class="ring" cx="702" cy="1612" r="13"/><text class="t s" x="702" y="1621">Pdgfr</text></g>
<g id="a-nadph"><circle cx="505" cy="1658" r="22" fill="#f5b020"/><circle class="ring" cx="505" cy="1658" r="13"/><text class="t s" x="507" y="1667">NADPH oxidase</text></g>
<g id="a-laminin"><circle cx="1362" cy="1639" r="22" fill="#8de3f3"/><circle class="ring" cx="1362" cy="1639" r="13"/><text class="t s" x="1362" y="1648">Laminin (complex)</text></g>
<g id="a-collagens"><circle cx="880" cy="1724" r="22" fill="#f5b020"/><circle class="ring" cx="880" cy="1724" r="13"/><text class="t s" x="880" y="1733">Collagen(s)</text></g>
<g id="a-mmp14"><polygon points="1065,1783 1110,1760 1155,1783 1110,1806" fill="#ee2222"/><text class="t s" x="1110" y="1792">MMP14</text></g>
<g id="a-gpiib-iiia"><circle cx="1342" cy="1806" r="22" fill="#f5b020"/><circle class="ring" cx="1342" cy="1806" r="13"/><text class="t s" x="1342" y="1815">GPIIB-IIIA</text></g>
<g id="a-fibrinogen"><circle cx="1577" cy="1781" r="22" fill="#fbe386"/><circle class="ring" cx="1577" cy="1781" r="13"/><text class="t s" x="1577" y="1790">Fibrinogen</text></g>
<g id="a-ldl"><circle class="wn" cx="896" cy="1930" r="22"/><circle class="ring" cx="896" cy="1930" r="13" stroke="#ccc"/><text class="t s" x="896" y="1939">LDL</text></g>
<g id="a-collagen-iv"><circle cx="1176" cy="1976" r="22" fill="#8de3f3"/><circle class="ring" cx="1176" cy="1976" r="13"/><text class="t s" x="1176" y="1985">Collagen type IV</text></g>
<g id="a-collagen-iii"><circle cx="1354" cy="2063" r="22" fill="#f5b020"/><circle class="ring" cx="1354" cy="2063" r="13"/><text class="t s" x="1354" y="2072">Collagen type III</text></g>
<g id="a-atpase"><circle cx="818" cy="2260" r="22" fill="url(#atp)"/><text class="t s" x="818" y="2269">ATPase</text></g>
</g>
<g id="nodes-b">
<g id="b-prss1"><polygon points="3090,366 3151,339 3212,366 3151,393" fill="#ee2a2a"/><text class="t s2" x="3151" y="376">PRSS1</text></g>
<g id="b-beta-tubulin"><circle class="wn" cx="3745" cy="414" r="26"/><circle class="ring" cx="3745" cy="414" r="16" stroke="#ccc"/><text class="t s2" x="3746" y="424">BETA TUBULIN</text></g>
<g id="b-cdk46"><circle cx="2822" cy="527" r="26" fill="#e0f5fb" stroke="#c5e6ef" stroke-width="2"/><text class="t s2" x="2822" y="537">CDK4/6</text></g>
<g id="b-tuba1c"><circle cx="3240" cy="672" r="26" fill="#ee2a2a"/><text class="t s2" x="3240" y="682">TUBA1C</text></g>
<g id="b-alpha-tubulin"><circle cx="3531" cy="747" r="26" fill="#ee2a2a"/><circle class="ring" cx="3531" cy="747" r="16"/><text class="t s2" x="3531" y="757">Alpha tubulin</text></g>
<g id="b-cct8"><circle cx="3819" cy="731" r="26" fill="#ee2a2a"/><text class="t s2" x="3819" y="741">CCT8</text></g>
<g id="b-actn4"><ellipse cx="2762" cy="815" rx="61" ry="27" fill="#ee2a2a"/><text class="t s2" x="2762" y="825">ACTN4</text></g>
<g id="b-plec"><circle cx="3046" cy="886" r="26" fill="#ee2a2a"/><text class="t s2" x="3046" y="896">PLEC</text></g>
<g id="b-dsp"><circle cx="3260" cy="938" r="26" fill="#ee2a2a"/><text class="t s2" x="3260" y="948">DSP</text></g>
<g id="b-c-src"><circle cx="2403" cy="920" r="26" fill="#fbe386"/><circle class="ring" cx="2403" cy="920" r="16"/><text class="t s2" x="2403" y="930">c-Src</text></g>
<g id="b-cct2"><polygon points="3686,956 3742,956 3714,1007" fill="#ee2a2a"/><text class="t s2" x="3714" y="989">CCT2</text></g>
<g id="b-dna-pk"><circle class="wn" cx="4025" cy="866" r="26"/><circle class="ring" cx="4025" cy="866" r="16" stroke="#ccc"/><text class="t s2" x="4025" y="876">DNA-PK</text></g>
<g id="b-integrin"><circle cx="2622" cy="1066" r="26" fill="#ee2a2a"/><circle class="ring" cx="2622" cy="1066" r="16"/><text class="t s2" x="2622" y="1076">Integrin</text></g>
<g id="b-actin"><circle cx="2822" cy="1120" r="26" fill="#fbe8a0"/><circle class="ring" cx="2822" cy="1120" r="16" stroke="#f0d878"/><text class="t s2" x="2822" y="1130">Actin</text></g>
<g id="b-flna"><circle cx="3020" cy="1105" r="26" fill="#ee2a2a"/><text class="t s2" x="3020" y="1115">FLNA</text></g>
<g id="b-iqgap1"><circle cx="3304" cy="1140" r="26" fill="#ee2a2a"/><rect x="3232" y="1118" width="128" height="38" fill="#ff0000"/><text class="t bl2" x="3296" y="1149">IQGAP1</text></g>
<g id="b-tnpo1"><polygon points="3919,1193 3955,1193 3965,1251 3909,1251" fill="#ee2a2a"/><text class="t s2" x="3936" y="1232">TNPO1</text></g>
<g id="b-ecm"><circle class="wn" cx="2385" cy="1254" r="26"/><circle class="ring" cx="2385" cy="1254" r="16" stroke="#ccc"/><text class="t s2" x="2385" y="1264">Ecm</text></g>
<g id="b-collagen-iv"><circle cx="2608" cy="1265" r="26" fill="#e6f7fb" stroke="#c5e6ef" stroke-width="2"/><text class="t s2" x="2608" y="1275">Collagen type IV</text></g>
<g id="b-anxa2"><circle cx="3540" cy="1284" r="26" fill="#ee2a2a"/><text class="t s2" x="3540" y="1294">ANXA2</text></g>
<g id="b-itgb1"><ellipse cx="2937" cy="1362" rx="26" ry="61" fill="#ee3030"/><rect x="2887" y="1336" width="100" height="52" fill="#ff0000"/><text class="t bl2" x="2937" y="1374">ITGB1</text></g>
<g id="b-calpain"><circle cx="3189" cy="1339" r="26" fill="#fcefb0"/><circle class="ring" cx="3189" cy="1339" r="16" stroke="#f0d878"/><text class="t s2" x="3189" y="1349">calpain</text></g>
<g id="b-fak"><circle cx="2713" cy="1467" r="26" fill="#f5b829"/><circle class="ring" cx="2713" cy="1467" r="16"/><text class="t s2" x="2713" y="1477">Focal adhesion kinase</text></g>
<g id="b-gpiib-iiia"><circle cx="2310" cy="1553" r="26" fill="#f5b829"/><circle class="ring" cx="2310" cy="1553" r="16"/><text class="t s2" x="2312" y="1563">GPIIB-IIIA</text></g>
<g id="b-erk12"><circle cx="3183" cy="1536" r="26" fill="#f5b829"/><rect x="3124" y="1518" width="118" height="34" fill="#ffe066"/><text class="t bl2" x="3183" y="1547">ERK1/2</text></g>
<g id="b-cyclin-e"><circle cx="3666" cy="1543" r="26" fill="#f5b829"/><circle class="ring" cx="3666" cy="1543" r="16"/><text class="t s2" x="3666" y="1553">Cyclin E</text></g>
<g id="b-laminin"><circle cx="2510" cy="1663" r="26" fill="#77dff5"/><circle class="ring" cx="2510" cy="1663" r="16"/><text class="t s2" x="2510" y="1673">Laminin (complex)</text></g>
<g id="b-mmp14"><polygon points="2719,1694 2769,1667 2819,1694 2769,1721" fill="#ee2222"/><text class="t s2" x="2769" y="1704">MMP14</text></g>
<g id="b-rac"><circle cx="3011" cy="1735" r="26" fill="#f5b829"/><circle class="ring" cx="3011" cy="1735" r="16"/><text class="t s2" x="3011" y="1745">Rac</text></g>
<g id="b-pdgf-bb"><circle cx="3211" cy="1761" r="26" fill="#f5b829"/><circle class="ring" cx="3211" cy="1761" r="16"/><text class="t s2" x="3211" y="1771">PDGF BB</text></g>
<g id="b-secretase-gamma"><circle cx="3469" cy="1761" r="26" fill="#fdf0b0"/><circle class="ring" cx="3469" cy="1761" r="16" stroke="#f0d878"/><text class="t s2" x="3469" y="1771">Secretase gamma</text></g>
<g id="b-snd1"><polygon points="4002,1776 4040,1837 4002,1898 3964,1837" fill="#ee2a2a"/><text class="t s2" x="4002" y="1847">SND1</text></g>
<g id="b-collagen"><circle cx="2723" cy="1924" r="26" fill="#f5b829"/><circle class="ring" cx="2723" cy="1924" r="16"/><text class="t s2" x="2723" y="1934">collagen</text></g>
<g id="b-nadph"><circle cx="3194" cy="1996" r="26" fill="#f5b829"/><circle class="ring" cx="3194" cy="1996" r="16"/><text class="t s2" x="3194" y="2006">NADPH oxidase</text></g>
<g id="b-cspg4"><circle cx="2881" cy="2126" r="26" fill="#ee2a2a"/><text class="t s2" x="2881" y="2136">CSPG4</text></g>
</g>
</svg>
